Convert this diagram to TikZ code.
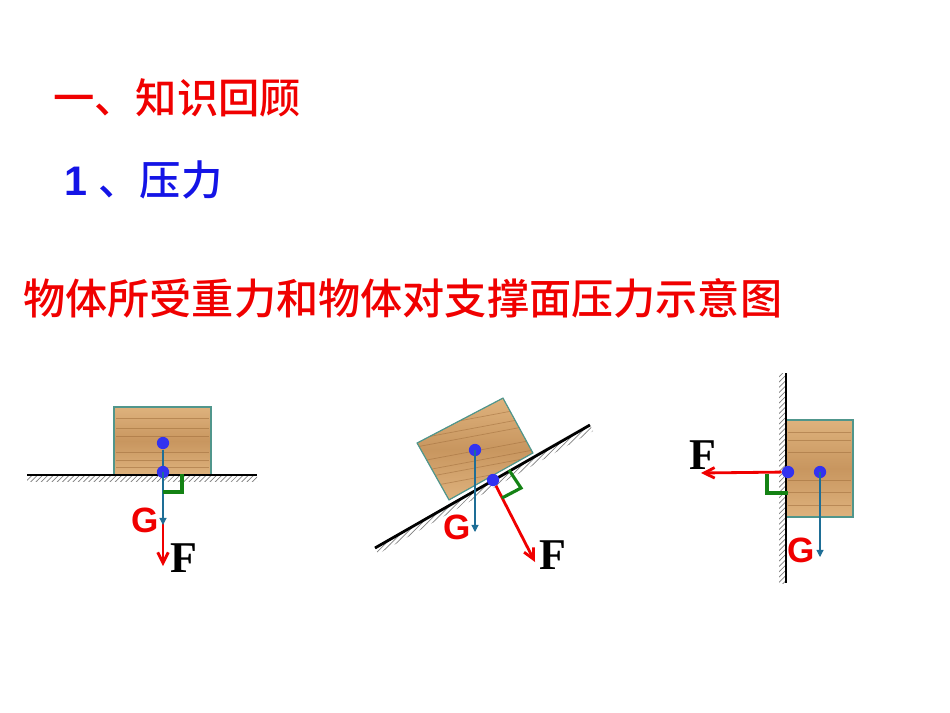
\documentclass[tikz,border=0pt]{standalone}
\usepackage{fontspec}
\newfontfamily\cjk{Noto Sans CJK SC}[BoldFont={Noto Sans CJK SC Medium}]
\setsansfont{Liberation Sans}
\setmainfont{Liberation Serif}
\usetikzlibrary{patterns,arrows.meta}
\definecolor{tred}{RGB}{240,0,0}
\definecolor{tblue}{RGB}{20,20,230}
\definecolor{wood}{RGB}{200,150,95}
\definecolor{woodl}{RGB}{222,178,125}
\definecolor{woodd}{RGB}{160,110,60}
\definecolor{gline}{RGB}{30,110,150}
\definecolor{rgreen}{RGB}{20,130,20}
\tikzset{
 dot/.style={circle,fill={rgb,255:red,50;green,50;blue,240},inner sep=0pt,minimum size=7pt},
 gvec/.style={draw=gline,line width=0.6pt,-{Triangle[length=4pt,width=4pt]}},
 fvec/.style={draw=tred,line width=1.6pt,-{Straight Barb[length=6pt,width=6pt]}},
 rang/.style={draw=rgreen,line width=1.8pt},
 glab/.style={text=tred,font=\sffamily\bfseries\fontsize{20}{20}\selectfont},
 flab/.style={font=\rmfamily\bfseries\fontsize{25}{25}\selectfont},
 woodbox/.style={draw={rgb,255:red,80;green,150;blue,140},line width=0.6pt,top color=woodl,bottom color=woodl,middle color=wood},
 grain/.style={draw=woodd,line width=0.4pt,opacity=0.55},
 surf/.style={line width=1.6pt},
 hatch/.style={pattern=north east lines,pattern color=gray}
}
\begin{document}
\begin{tikzpicture}[x=0.02cm,y=-0.02cm]
\useasboundingbox (0,0) rectangle (950,713);
\node[anchor=west,text=tred,font=\cjk\bfseries\fontsize{23.5}{23.5}\selectfont] (t1) at (47,98) {一、知识回顾};
\node[anchor=west,text=tblue,font=\cjk\bfseries\fontsize{23.5}{23.5}\selectfont] (t2) at (58,180) {\sffamily\bfseries 1 \cjk、压力};
\node[anchor=west,text=tred,font=\cjk\bfseries\fontsize{24}{24}\selectfont] (t3) at (17,298) {物体所受重力和物体对支撑面压力示意图};
% diagram 1
\fill[hatch] (27,475) rectangle (257,481);
\draw[woodbox] (114,407) rectangle (211,475);
\foreach \yy in {418,428,436,452,460,467}{\draw[grain] (116,\yy) -- (209,\yy);}
\draw[surf] (27,475) -- (257,475);
\node[dot] (a1) at (163,443) {};
\node[dot] (a2) at (163,472) {};
\coordinate (a3) at (163,566);
\coordinate (a4) at (163,525);
\draw[fvec] (a2) -- (a3);
\draw[gline,line width=0.6pt] (a1) -- (a2);
\draw[gvec] (a2.center) -- (a4);
\draw[rang] (182,474) -- (182,492) -- (163,492);
\node[glab] (ga) at (145,520) {G};
\node[flab] (fa) at (184,558) {F};
% diagram 2
\fill[hatch] (375,548) -- (590,425) -- (593,431) -- (378,554) -- cycle;
\begin{scope}
\clip (417,443) -- (503,398) -- (533,453) -- (449,500) -- cycle;
\draw[woodbox] (417,443) -- (503,398) -- (533,453) -- (449,500) -- cycle;
\foreach \d in {12,22,30,45,55,62,72}{\draw[grain] (400,420+\d) -- (560,420+\d-30);}
\end{scope}
\draw[draw={rgb,255:red,80;green,150;blue,140},line width=0.6pt] (417,443) -- (503,398) -- (533,453) -- (449,500) -- cycle;
\draw[surf] (375,548) -- (590,425);
\node[dot] (b1) at (475,450) {};
\node[dot] (b2) at (493,480) {};
\coordinate (b3) at (535,562);
\coordinate (b4) at (475,532);
\draw[gvec] (b1.center) -- (b4);
\draw[fvec] (b2) -- (b3);
\draw[rang] (509,470) -- (521,488) -- (502,498);
\node[glab] (gb) at (457,527) {G};
\node[flab] (fb) at (553,555) {F};
% diagram 3
\fill[hatch] (779,373) rectangle (786,583);
\draw[woodbox] (786,420) rectangle (853,517);
\foreach \yy in {432,440,452,480,492,505}{\draw[grain] (788,\yy) -- (851,\yy);}
\draw[surf] (786,373) -- (786,583);
\node[dot] (c1) at (788,472) {};
\node[dot] (c2) at (820,472) {};
\coordinate (c3) at (701,473);
\coordinate (c4) at (820,557);
\draw[fvec] (c1) -- (c3);
\draw[gvec] (c2.center) -- (c4);
\draw[rang] (767,474) -- (767,493) -- (788,493);
\node[glab] (gc) at (801,550) {G};
\node[flab] (fc) at (703,455) {F};
\end{tikzpicture}
\end{document}
